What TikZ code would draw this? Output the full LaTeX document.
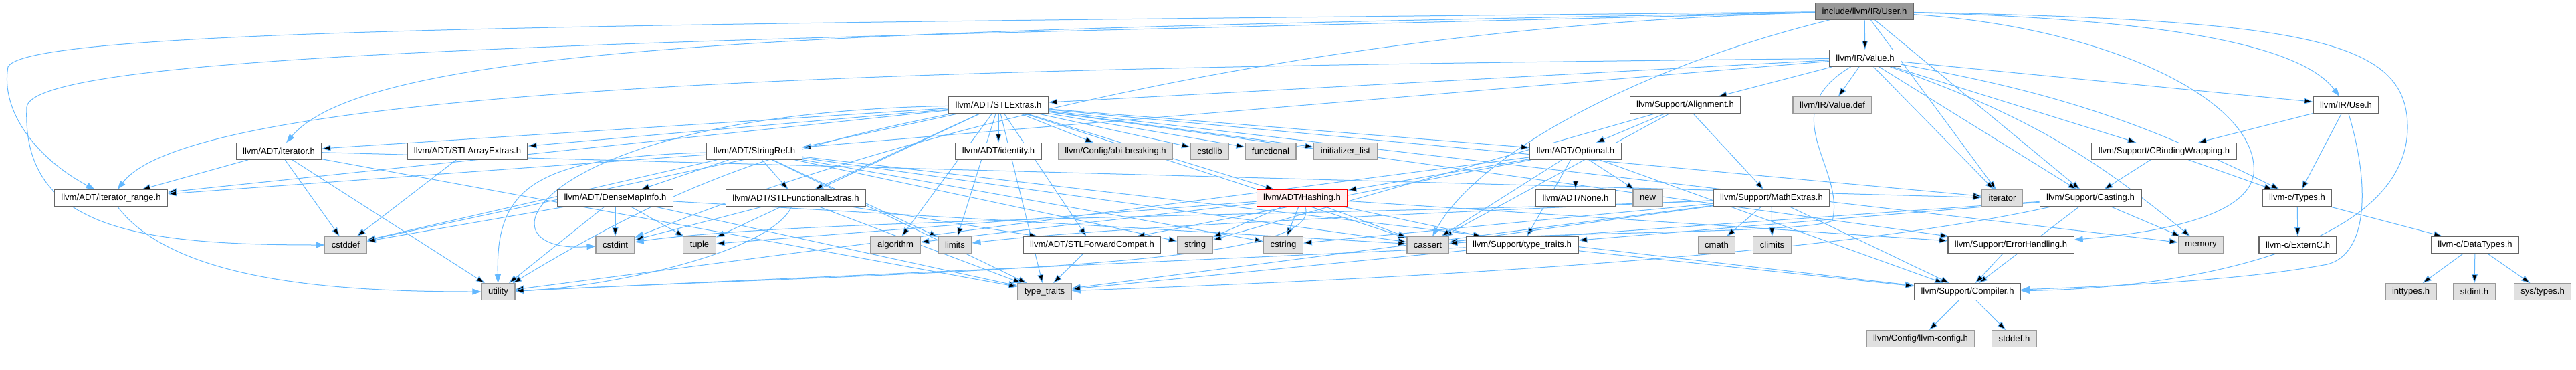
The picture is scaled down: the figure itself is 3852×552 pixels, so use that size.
\documentclass[tikz,border=0pt]{standalone}
\usepackage{fontspec}
\setmainfont{Liberation Sans}
\usepackage{xcolor}
\usepackage{tikz}
\usetikzlibrary{arrows.meta,backgrounds}

\definecolor{edgeblue}{HTML}{63B8FF}
\definecolor{hdrline}{HTML}{666666}
\definecolor{sysline}{HTML}{999999}
\definecolor{sysfill}{HTML}{E0E0E0}
\definecolor{rootfill}{HTML}{999999}
\definecolor{cutfill}{HTML}{FFF0F0}

\begin{document}
\begin{tikzpicture}[x=1pt, y=1pt,
  hdr/.style={draw=hdrline, fill=white, line width=1.2pt, minimum height=24.5pt,
    inner xsep=10pt, inner ysep=0pt, font=\fontsize{13.1}{15}\selectfont},
  syshdr/.style={hdr, draw=sysline, fill=sysfill},
  roothdr/.style={hdr, fill=rootfill},
  cuthdr/.style={hdr, draw=red, fill=cutfill},
  incl/.style={draw=edgeblue, line width=1pt, -{Triangle[length=13pt,width=9pt]}}]
  \useasboundingbox (0,0) rectangle (3852,-552);
  % Row 0 and 1
  \node[roothdr] (user) at (2788,-17) {include/llvm/IR/User.h};
  \node[hdr] (value) at (2789,-87) {llvm/IR/Value.h};
  % Row 2
  \node[hdr] (stlextras) at (1493,-157) {llvm/ADT/STLExtras.h};
  \node[hdr] (align) at (2520,-157) {llvm/Support/Alignment.h};
  \node[syshdr] (valuedef) at (2740,-157) {llvm/IR/Value.def};
  \node[hdr] (use) at (3508,-157) {llvm/IR/Use.h};
  % Row 3
  \node[hdr] (iter) at (417,-226) {llvm/ADT/iterator.h};
  \node[hdr] (arrayext) at (699,-226) {llvm/ADT/STLArrayExtras.h};
  \node[hdr] (strref) at (1128,-226) {llvm/ADT/StringRef.h};
  \node[hdr] (identity) at (1493,-226) {llvm/ADT/identity.h};
  \node[syshdr] (abibrk) at (1668,-226) {llvm/Config/abi-breaking.h};
  \node[syshdr] (cstdlib) at (1809,-226) {cstdlib};
  \node[syshdr] (functional) at (1900,-226) {functional};
  \node[syshdr] (initlist) at (2012,-226) {initializer\_list};
  \node[hdr] (optional) at (2356,-226) {llvm/ADT/Optional.h};
  \node[hdr] (cbind) at (3236,-226) {llvm/Support/CBindingWrapping.h};
  % Row 4
  \node[hdr] (iterrange) at (166,-296) {llvm/ADT/iterator\_range.h};
  \node[hdr] (densemap) at (920,-296) {llvm/ADT/DenseMapInfo.h};
  \node[hdr] (funcext) at (1190,-296) {llvm/ADT/STLFunctionalExtras.h};
  \node[cuthdr] (hashing) at (1947,-296) {llvm/ADT/Hashing.h};
  \node[hdr] (none) at (2356,-296) {llvm/ADT/None.h};
  \node[syshdr] (stdnew) at (2464,-296) {new};
  \node[hdr] (mathext) at (2649,-296) {llvm/Support/MathExtras.h};
  \node[syshdr] (stditer) at (2994,-296) {iterator};
  \node[hdr] (casting) at (3126,-296) {llvm/Support/Casting.h};
  \node[hdr] (ctypes) at (3435,-296) {llvm-c/Types.h};
  % Row 5
  \node[syshdr] (cstddef) at (517,-366) {cstddef};
  \node[syshdr] (cstdint) at (920,-366) {cstdint};
  \node[syshdr] (tuple) at (1046,-366) {tuple};
  \node[syshdr] (algorithm) at (1339,-366) {algorithm};
  \node[syshdr] (limits) at (1428,-366) {limits};
  \node[hdr] (fwdcompat) at (1633,-366) {llvm/ADT/STLForwardCompat.h};
  \node[syshdr] (stdstring) at (1787,-366) {string};
  \node[syshdr] (cstring) at (1919,-366) {cstring};
  \node[syshdr] (cassert) at (2135,-366) {cassert};
  \node[hdr] (stypetraits) at (2276,-366) {llvm/Support/type\_traits.h};
  \node[syshdr] (cmath) at (2567,-366) {cmath};
  \node[syshdr] (climits) at (2650,-366) {climits};
  \node[hdr] (errhandling) at (3007,-366) {llvm/Support/ErrorHandling.h};
  \node[syshdr] (memory) at (3291,-366) {memory};
  \node[hdr] (externc) at (3436,-366) {llvm-c/ExternC.h};
  \node[hdr] (datatypes) at (3701,-366) {llvm-c/DataTypes.h};
  % Row 6 and 7
  \node[syshdr] (utility) at (745,-436) {utility};
  \node[syshdr] (typetraits) at (1562,-436) {type\_traits};
  \node[hdr] (compiler) at (2942,-436) {llvm/Support/Compiler.h};
  \node[syshdr] (inttypes) at (3605,-436) {inttypes.h};
  \node[syshdr] (stdint) at (3700,-436) {stdint.h};
  \node[syshdr] (systypes) at (3802,-436) {sys/types.h};
  \node[syshdr] (llvmconfig) at (2872,-506) {llvm/Config/llvm-config.h};
  \node[syshdr] (stddef) at (3012,-506) {stddef.h};

  \begin{pgfonlayer}{background}
  % User.h
  \path[incl] (user) edge (value) edge (casting) edge (stditer);
  \draw[incl] (user) .. controls (3300,-30) and (3450,-80) .. (use);
  \draw[incl] (user) .. controls (1000,-36) and (40,-40) .. (12,-100) .. controls (0,-170) and (60,-240) .. (iterrange);
  \draw[incl] (user) .. controls (1300,-45) and (560,-60) .. (iter);
  \draw[incl] (user) .. controls (1200,-58) and (50,-70) .. (40,-160) .. controls (32,-340) and (200,-366) .. (cstddef);
  \draw[incl] (user) .. controls (1700,-45) and (1040,-320) .. (cstdint);
  \draw[incl] (user) .. controls (2450,-100) and (2210,-230) .. (cassert);
  \draw[incl] (user) .. controls (3150,-40) and (3380,-150) .. (3370,-260) .. controls (3360,-330) and (3200,-350) .. (errhandling);
  \draw[incl] (user) .. controls (3450,-30) and (3600,-60) .. (3600,-190) .. controls (3600,-360) and (3300,-430) .. (compiler);
  % Value.h
  \path[incl] (value) edge (stlextras) edge (strref) edge (use) edge (align) edge (valuedef)
    edge (cbind) edge (casting) edge (stditer) edge[bend left=10] (memory) edge[bend left=8] (ctypes);
  \draw[incl] (value) .. controls (1500,-100) and (300,-120) .. (iterrange);
  \draw[incl] (value) .. controls (2650,-170) and (2760,-250) .. (2740,-330) .. controls (2700,-350) and (2300,-345) .. (cassert);
  % STLExtras.h
  \path[incl] (stlextras) edge (hashing) edge (optional) edge (arrayext) edge (fwdcompat) edge (funcext)
    edge (identity) edge (iter) edge (iterrange) edge (abibrk) edge (errhandling) edge (algorithm)
    edge (cassert) edge (cstddef) edge (cstdlib) edge (functional) edge (initlist) edge (stditer)
    edge (limits) edge (memory) edge (tuple) edge (typetraits) edge[bend right=10] (utility);
  \draw[incl] (stlextras) .. controls (800,-170) and (700,-380) .. (cstdint);
  % StringRef.h
  \path[incl] (strref) edge (densemap) edge (funcext) edge (iterrange) edge (compiler)
    edge (cassert) edge (cstddef) edge (cstring) edge (limits) edge (stdstring) edge (typetraits);
  \draw[incl] (strref) .. controls (800,-235) and (741,-280) .. (utility);
  % DenseMapInfo.h, STLFunctionalExtras.h, STLForwardCompat.h, STLArrayExtras.h
  \path[incl] (densemap) edge (cassert) edge (cstddef) edge (cstdint) edge (tuple) edge (typetraits) edge (utility);
  \path[incl] (funcext) edge (fwdcompat) edge (cstdint) edge (typetraits);
  \draw[incl] (funcext) .. controls (1150,-380) and (900,-430) .. (utility);
  \path[incl] (fwdcompat) edge (typetraits);
  \path[incl] (arrayext) edge (cstddef);
  % iterator.h, iterator_range.h
  \path[incl] (iter) edge (iterrange) edge (cstddef) edge (stditer) edge (typetraits) edge (utility);
  \draw[incl] (iterrange) .. controls (260,-420) and (500,-436) .. (utility);
  % Alignment.h, Optional.h
  \path[incl] (align) edge (optional) edge (mathext) edge (cassert) edge (stdstring);
  \path[incl] (optional) edge (hashing) edge (none) edge (fwdcompat) edge (compiler) edge (stypetraits)
    edge (cassert) edge (stdnew) edge (utility);
  % Hashing.h
  \path[incl] (hashing) edge (errhandling) edge (stypetraits) edge (algorithm) edge (cassert)
    edge (cstring) edge (stdstring) edge (tuple);
  \draw[incl] (hashing) .. controls (1985,-400) and (1400,-405) .. (utility);
  % MathExtras.h
  \path[incl] (mathext) edge (compiler) edge (cassert) edge (climits) edge (cmath) edge (cstring) edge (typetraits);
  \draw[incl] (mathext) .. controls (2100,-320) and (1200,-325) .. (cstdint);
  \draw[incl] (mathext) .. controls (2100,-320) and (1650,-340) .. (limits);
  % Casting.h, type_traits.h, ErrorHandling.h, Compiler.h
  \path[incl] (casting) edge (compiler) edge (stypetraits) edge (cassert) edge (memory);
  \draw[incl] (casting) .. controls (2700,-390) and (2000,-420) .. (typetraits);
  \path[incl] (stypetraits) edge (compiler) edge (typetraits) edge (utility);
  \path[incl] (errhandling) edge (compiler);
  \path[incl] (compiler) edge (llvmconfig) edge (stddef);
  % Use.h and the C headers
  \path[incl] (use) edge (cbind) edge (ctypes);
  \draw[incl] (use) .. controls (3545,-280) and (3540,-380) .. (3480,-395) .. controls (3350,-420) and (3150,-428) .. (compiler);
  \path[incl] (cbind) edge (ctypes) edge (casting);
  \path[incl] (ctypes) edge (datatypes) edge (externc);
  \path[incl] (datatypes) edge (inttypes) edge (stdint) edge (systypes);
  \end{pgfonlayer}
\end{tikzpicture}
\end{document}
